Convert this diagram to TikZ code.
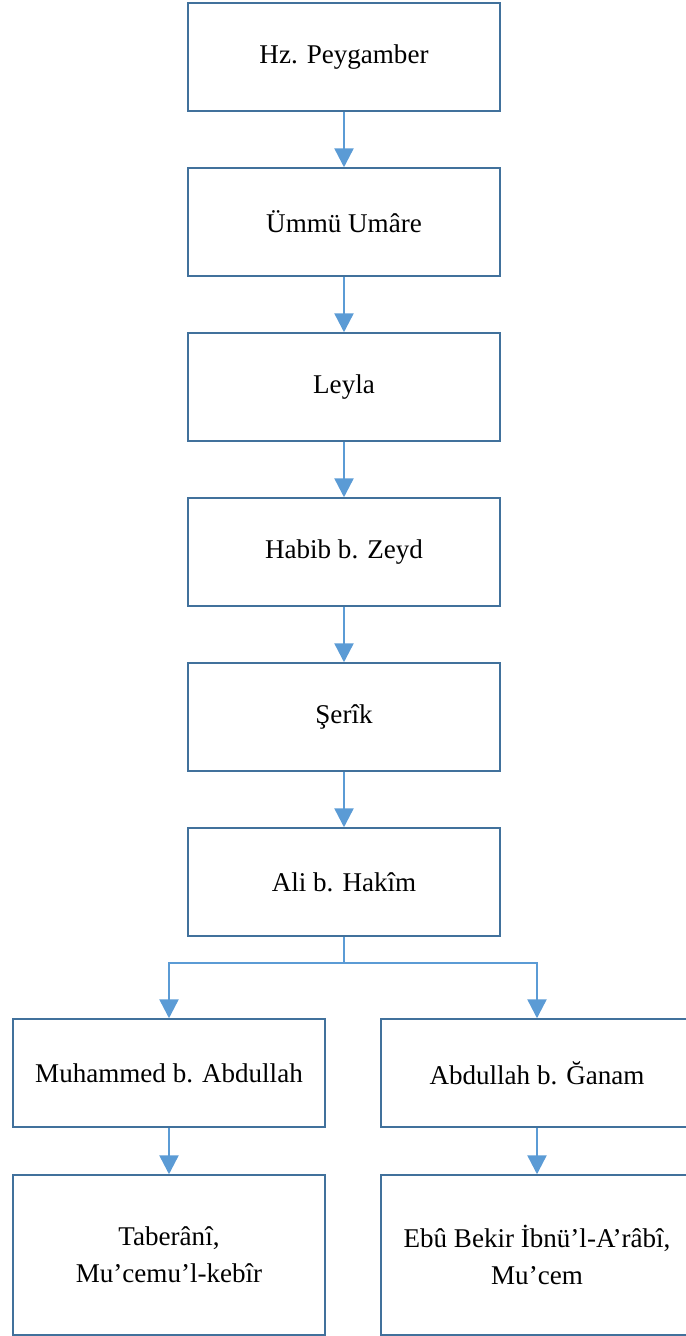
\documentclass[tikz,border=0pt]{standalone}
\usepackage{fontspec}
\setmainfont{Liberation Serif}
\usetikzlibrary{arrows.meta}
\definecolor{boxblue}{HTML}{41719C}
\definecolor{arrowblue}{HTML}{5B9BD5}
\tikzset{
  ravi/.style={shape=rectangle, draw=boxblue, line width=0.85pt,
    minimum width=6.24cm, minimum height=2.16cm, align=center,
    font=\fontsize{15.4}{21}\selectfont},
  kaynak/.style={ravi, minimum height=3.2cm},
  isnad/.style={draw=arrowblue, line width=1.4pt},
}
\begin{document}
\begin{tikzpicture}
[>={Triangle[length=0.38cm,width=0.38cm]}]
\useasboundingbox (0,0) rectangle (13.72,-26.72);
\node[ravi] (peygamber) at (6.88, -1.14) {Hz. Peygamber};
\node[ravi] (ummu) at (6.88, -4.44) {Ümmü Umâre};
\node[ravi] (leyla) at (6.88, -7.74) {Leyla};
\node[ravi] (habib) at (6.88, -11.04) {Habib b. Zeyd};
\node[ravi] (serik) at (6.88, -14.34) {Şerîk};
\node[ravi] (ali) at (6.88, -17.64) {Ali b. Hakîm};
\node[ravi] (muhammed) at (3.38, -21.46) {Muhammed b. Abdullah};
\node[ravi] (ganam) at (10.74, -21.46) {Abdullah b. Ğanam};
\node[kaynak] (taberani) at (3.38, -25.1) {Taberânî,\\ Mu’cemu’l-kebîr};
\node[kaynak] (ibnularabi) at (10.74, -25.1) {Ebû Bekir İbnü’l-A’râbî,\\ Mu’cem};

\draw[isnad,->] (peygamber) to (ummu);
\draw[isnad,->] (ummu) to (leyla);
\draw[isnad,->] (leyla) to (habib);
\draw[isnad,->] (habib) to (serik);
\draw[isnad,->] (serik) to (ali);
\coordinate (split) at (6.88, -19.26);
\draw[isnad] (ali) -- (split);
\draw[isnad,->] (split) -| (muhammed);
\draw[isnad,->] (split) -| (ganam);
\draw[isnad,->] (muhammed) to (taberani);
\draw[isnad,->] (ganam) to (ibnularabi);
\end{tikzpicture}
\end{document}
